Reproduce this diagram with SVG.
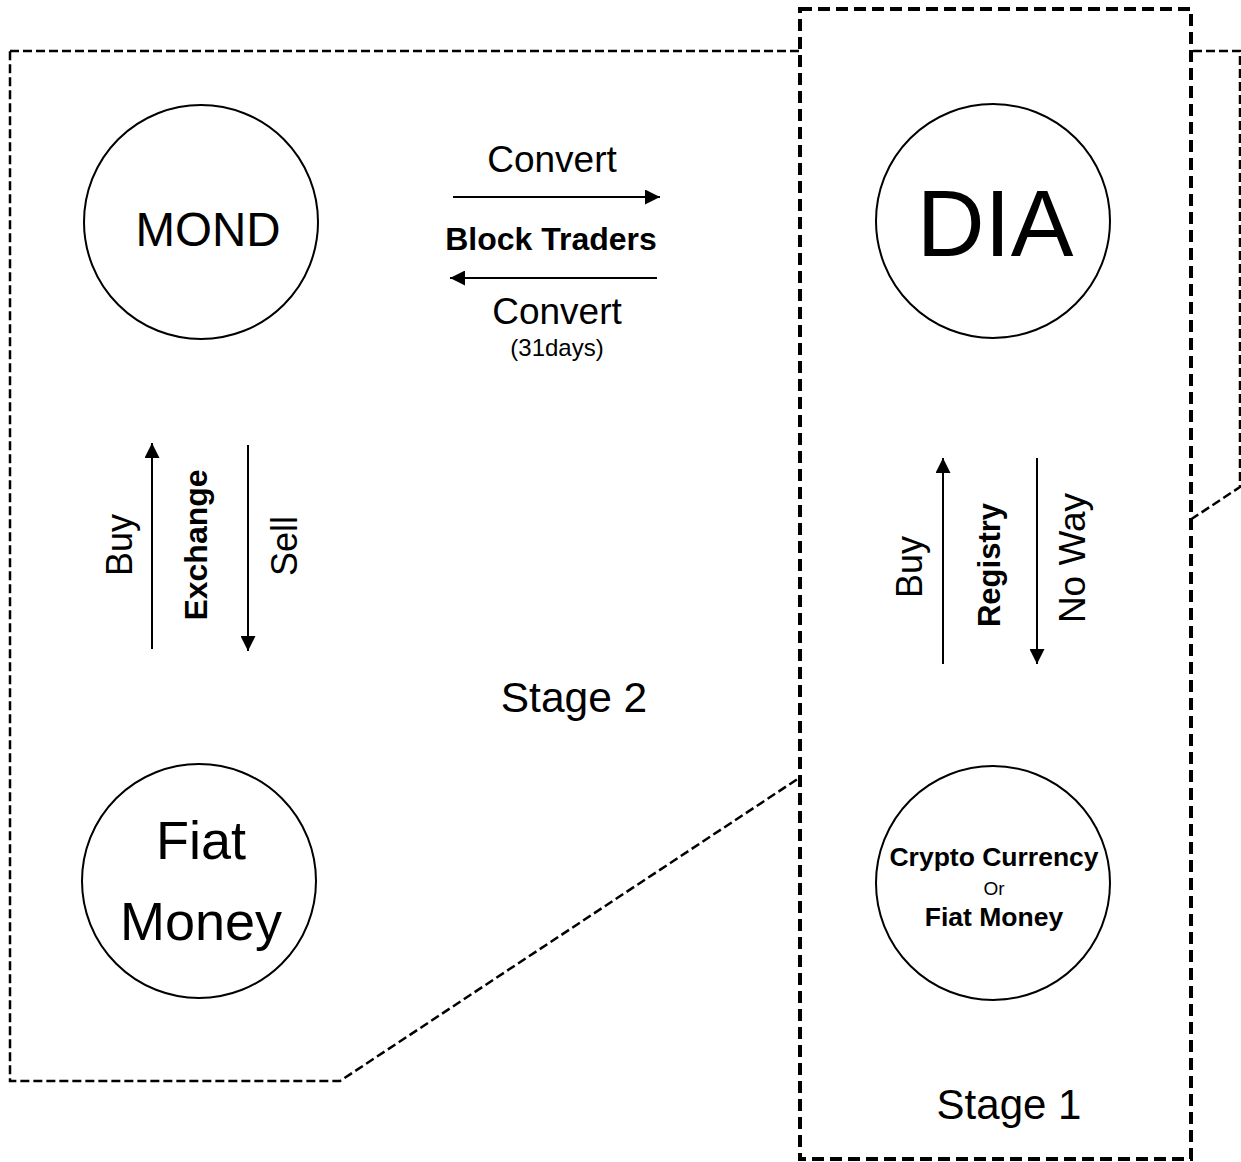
<svg xmlns="http://www.w3.org/2000/svg" width="1241" height="1162" viewBox="0 0 1241 1162">
<style>
text{font-family:"Liberation Sans",Arial,sans-serif;fill:#000}
.b{font-weight:bold}
.node{fill:#fff;stroke:#000;stroke-width:2}
.ln{stroke:#000;stroke-width:2;fill:none}
</style>
<defs>
<marker id="ah" viewBox="0 0 10 10" refX="10" refY="5" markerWidth="15" markerHeight="15" markerUnits="userSpaceOnUse" orient="auto">
<path d="M0,0L10,5L0,10z" fill="#000"/>
</marker>
</defs>
<rect width="1241" height="1162" fill="#fff"/>
<g id="stage2">
<path d="M10,51H1240V487L340,1081H10Z" fill="#fff" stroke="#000" stroke-width="2.5" stroke-dasharray="9,4"/>
<text x="574" y="712" font-size="42.5" text-anchor="middle">Stage 2</text>
</g>
<g id="stage1">
<rect x="800" y="9" width="391" height="1150" fill="#fff" stroke="#000" stroke-width="4" stroke-dasharray="12,6"/>
<text x="1009" y="1119" font-size="42" text-anchor="middle">Stage 1</text>
</g>
<g id="mond">
<circle class="node" cx="201" cy="222" r="117"/>
<text x="208" y="246" font-size="47.5" text-anchor="middle">MOND</text>
</g>
<g id="dia">
<circle class="node" cx="993" cy="221" r="117"/>
<text x="995" y="256" font-size="94" text-anchor="middle">DIA</text>
</g>
<g id="fiat">
<circle class="node" cx="199" cy="881" r="117"/>
<text x="201" y="859" font-size="54" text-anchor="middle">Fiat</text>
<text x="201" y="940" font-size="54" text-anchor="middle">Money</text>
</g>
<g id="crypto">
<circle class="node" cx="993" cy="883" r="117"/>
<text x="994" y="866" font-size="26.5" text-anchor="middle" class="b">Crypto Currency</text>
<text x="994" y="895" font-size="19" text-anchor="middle">Or</text>
<text x="994" y="926" font-size="26.5" text-anchor="middle" class="b">Fiat Money</text>
</g>
<g id="connectors">
<line class="ln" x1="453" y1="197" x2="660" y2="197" marker-end="url(#ah)"/>
<line class="ln" x1="657" y1="278" x2="450" y2="278" marker-end="url(#ah)"/>
<line class="ln" x1="152" y1="649" x2="152" y2="443" marker-end="url(#ah)"/>
<line class="ln" x1="248" y1="445" x2="248" y2="651" marker-end="url(#ah)"/>
<line class="ln" x1="943" y1="664" x2="943" y2="458" marker-end="url(#ah)"/>
<line class="ln" x1="1037" y1="458" x2="1037" y2="664" marker-end="url(#ah)"/>
<text x="552" y="172" font-size="37" text-anchor="middle">Convert</text>
<text x="551" y="250" font-size="32" text-anchor="middle" class="b">Block Traders</text>
<text x="557" y="324" font-size="37" text-anchor="middle">Convert</text>
<text x="557" y="356" font-size="24" text-anchor="middle">(31days)</text>
<text transform="translate(132,545) rotate(-90)" font-size="36" text-anchor="middle">Buy</text>
<text transform="translate(207,545) rotate(-90)" font-size="32" text-anchor="middle" class="b">Exchange</text>
<text transform="translate(297,546) rotate(-90)" font-size="36" text-anchor="middle">Sell</text>
<text transform="translate(922,567) rotate(-90)" font-size="36" text-anchor="middle">Buy</text>
<text transform="translate(1000,565) rotate(-90)" font-size="31" text-anchor="middle" class="b">Registry</text>
<text transform="translate(1085,558) rotate(-90)" font-size="37" text-anchor="middle">No Way</text>
</g>
</svg>
